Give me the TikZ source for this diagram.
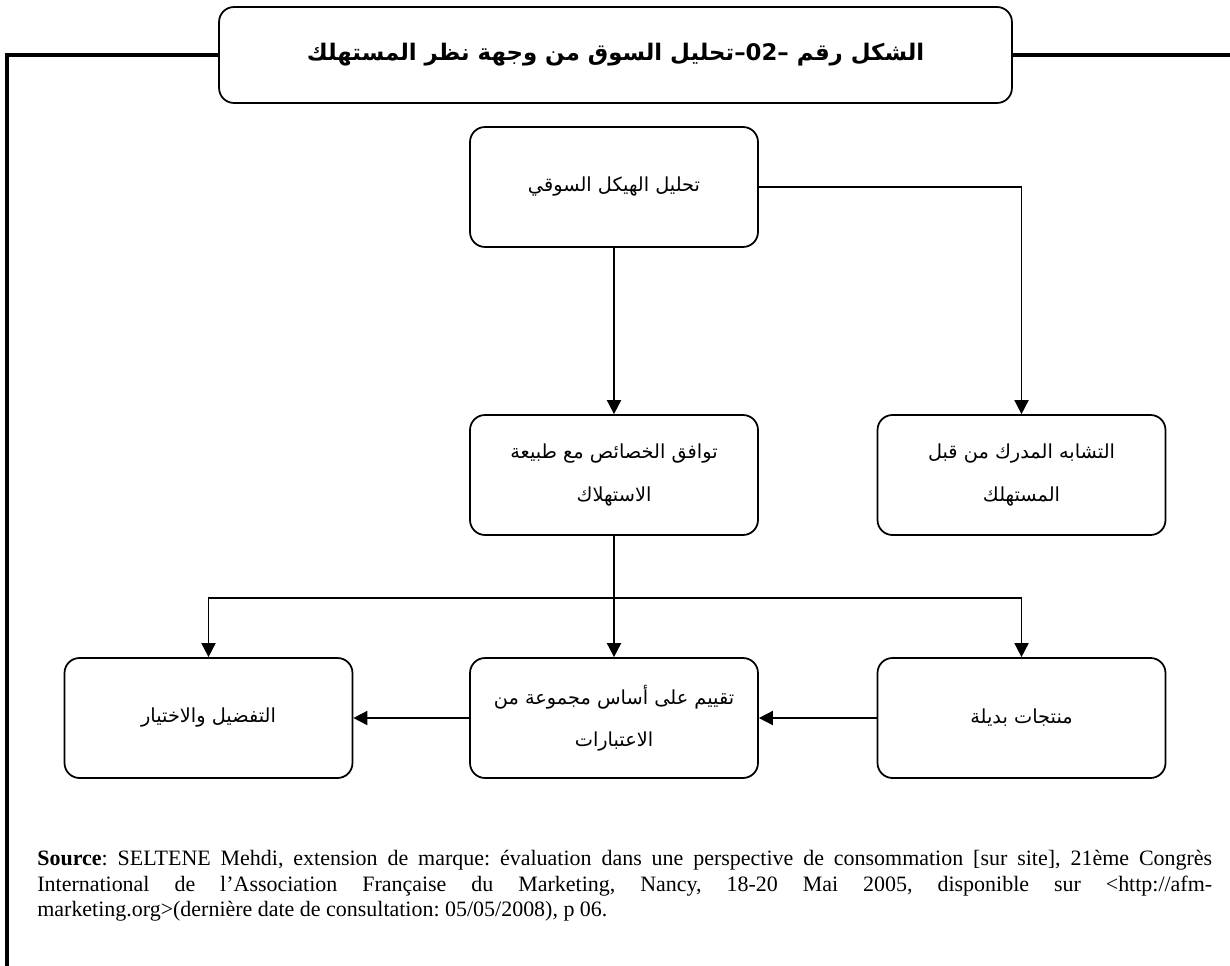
\documentclass[tikz,border=0pt]{standalone}
\usepackage{fontspec}
\setmainfont{Liberation Serif}
\newfontfamily\arabicfont[Script=Arabic]{DejaVu Sans}
\TeXXeTstate=1
\usetikzlibrary{arrows.meta}

\begin{document}
\begin{tikzpicture}[x=0.02cm,y=-0.02cm,every node/.style={inner sep=2pt},
          >={Triangle[width=8pt,length=8pt]},
          box/.style={draw,line width=1pt,rounded corners=8.5pt,minimum width=5.76cm,
            minimum height=2.4cm,align=center,font=\arabicfont\fontsize{11}{24}\selectfont},
          link/.style={line width=1pt,->}]
          \useasboundingbox(0,0)rectangle(1230,966);
          \node[box,minimum width=15.86cm,minimum height=1.92cm,
             font=\arabicfont\bfseries\fontsize{13}{18}\selectfont](title)at(615.5,55)
             {\beginR الشكل رقم –\beginL02\endL–تحليل السوق من وجهة نظر المستهلك\endR};
          \draw[line width=2.3pt](title.west)--(7,55)--(7,966)(title.east)--(1230,55);
          \node[box](struct)at(614,187){\beginR تحليل الهيكل السوقي\endR};
          \node[box](compat)at(614,475){\beginR توافق الخصائص مع طبيعة\endR\\\beginR الاستهلاك\endR};
          \node[box](similar)at(1021.5,475){\beginR التشابه المدرك من قبل\endR\\\beginR المستهلك\endR};
          \node[box](pref)at(208.5,718){\beginR التفضيل والاختيار\endR};
          \node[box](evalu)at(614,718){\beginR تقييم على أساس مجموعة من\endR\\\beginR الاعتبارات\endR};
          \node[box](subst)at(1021.5,718){\beginR منتجات بديلة\endR};
          \coordinate(split)at(614,598);
          \draw[link](struct)--(compat);
          \draw[link](struct.east)-|(similar.north);
          \foreach \n in {pref,evalu,subst}
            \draw[link](compat.south)|-(split-|\n.north)--(\n.north);
          \draw[link](subst)--(evalu);
          \draw[link](evalu)--(pref);
          \node[anchor=north west,text width=23.5cm,align=justify,inner sep=0pt,
             font=\fontsize{12.5}{14.6}\selectfont\frenchspacing](source)at(37,850)
             {\noindent\textbf{Source}: SELTENE Mehdi, extension de marque: évaluation dans une perspective de consommation [sur site], 21ème Congrès\linebreak
             International de l’Association Française du Marketing, Nancy, 18-20 Mai 2005, disponible sur <http://afm-\linebreak
             marketing.org>(dernière date de consultation: 05/05/2008), p 06.};
        \end{tikzpicture}
\end{document}
